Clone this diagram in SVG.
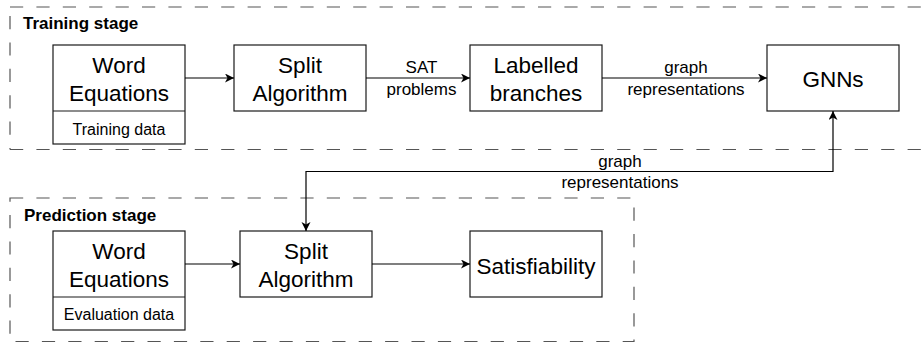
<svg xmlns="http://www.w3.org/2000/svg" width="923" height="343" viewBox="0 0 923 343">
  <style>
    .box { fill: #ffffff; stroke: #1a1a1a; stroke-width: 1.2; }
    .stage { fill: none; stroke: #555555; stroke-width: 1.2; stroke-dasharray: 13.2 13.2; }
    .edge { fill: none; stroke: #000000; stroke-width: 1.2; }
    .big { font-family: "Liberation Sans", Arial, sans-serif; font-size: 22.5px; fill: #000; text-anchor: middle; }
    .small { font-family: "Liberation Sans", Arial, sans-serif; font-size: 16px; fill: #000; text-anchor: middle; }
    .lbl { font-family: "Liberation Sans", Arial, sans-serif; font-size: 17px; fill: #000; text-anchor: middle; }
    .title { font-family: "Liberation Sans", Arial, sans-serif; font-size: 17px; font-weight: bold; fill: #000; }
  </style>
  <defs>
    <marker id="arrow" markerUnits="userSpaceOnUse" markerWidth="10" markerHeight="10" refX="9" refY="4.5" orient="auto-start-reverse">
      <path d="M0,0 L9,4.5 L0,9 L2.5,4.5 Z" fill="#000"/>
    </marker>
  </defs>

  <!-- Training stage container (runs off the right edge) -->
  <g id="training-stage">
    <path class="stage" d="M10,7 H940"/>
    <path class="stage" d="M10,149.5 H940"/>
    <path class="stage" d="M10,16 V149.5"/>
    <text class="title" x="23" y="28.5">Training stage</text>
  </g>

  <!-- Prediction stage container -->
  <g id="prediction-stage">
    <rect class="stage" x="10" y="198" width="624" height="143.5"/>
    <text class="title" x="24" y="221">Prediction stage</text>
  </g>

  <!-- Training nodes -->
  <g id="train-word-equations">
    <rect class="box" x="53" y="45" width="132" height="99"/>
    <line class="box" x1="53" y1="111" x2="185" y2="111"/>
    <text class="big" x="119" y="72.5">Word</text>
    <text class="big" x="119" y="100.5">Equations</text>
    <text class="small" x="119" y="134.5">Training data</text>
  </g>
  <g id="train-split-algorithm">
    <rect class="box" x="234" y="45" width="132" height="66"/>
    <text class="big" x="300" y="72.5">Split</text>
    <text class="big" x="300" y="100.5">Algorithm</text>
  </g>
  <g id="labelled-branches">
    <rect class="box" x="470" y="45" width="132" height="66"/>
    <text class="big" x="536" y="72.5">Labelled</text>
    <text class="big" x="536" y="100.5">branches</text>
  </g>
  <g id="gnns">
    <rect class="box" x="767" y="45" width="132" height="66"/>
    <text class="big" x="833" y="86.5">GNNs</text>
  </g>

  <!-- Prediction nodes -->
  <g id="eval-word-equations">
    <rect class="box" x="53" y="231" width="132" height="99"/>
    <line class="box" x1="53" y1="297" x2="185" y2="297"/>
    <text class="big" x="119" y="258.5">Word</text>
    <text class="big" x="119" y="286.5">Equations</text>
    <text class="small" x="119" y="320">Evaluation data</text>
  </g>
  <g id="eval-split-algorithm">
    <rect class="box" x="240" y="231" width="132" height="66"/>
    <text class="big" x="306" y="258.5">Split</text>
    <text class="big" x="306" y="286.5">Algorithm</text>
  </g>
  <g id="satisfiability">
    <rect class="box" x="470" y="231" width="132" height="66"/>
    <text class="big" x="536" y="273.5">Satisfiability</text>
  </g>

  <!-- Connectors -->
  <g id="connectors">
    <path class="edge" d="M185,78 H234" marker-end="url(#arrow)"/>
    <path class="edge" d="M366,78 H470" marker-end="url(#arrow)"/>
    <text class="lbl" x="421.5" y="73">SAT</text>
    <text class="lbl" x="421.5" y="94.5">problems</text>
    <path class="edge" d="M602,78 H767" marker-end="url(#arrow)"/>
    <text class="lbl" x="686" y="73">graph</text>
    <text class="lbl" x="686" y="94.5">representations</text>
    <path class="edge" d="M833,111 V171.5 H306 V231" marker-start="url(#arrow)" marker-end="url(#arrow)"/>
    <text class="lbl" x="620" y="166.5">graph</text>
    <text class="lbl" x="620" y="188">representations</text>
    <path class="edge" d="M185,264 H240" marker-end="url(#arrow)"/>
    <path class="edge" d="M372,264 H470" marker-end="url(#arrow)"/>
  </g>
</svg>
